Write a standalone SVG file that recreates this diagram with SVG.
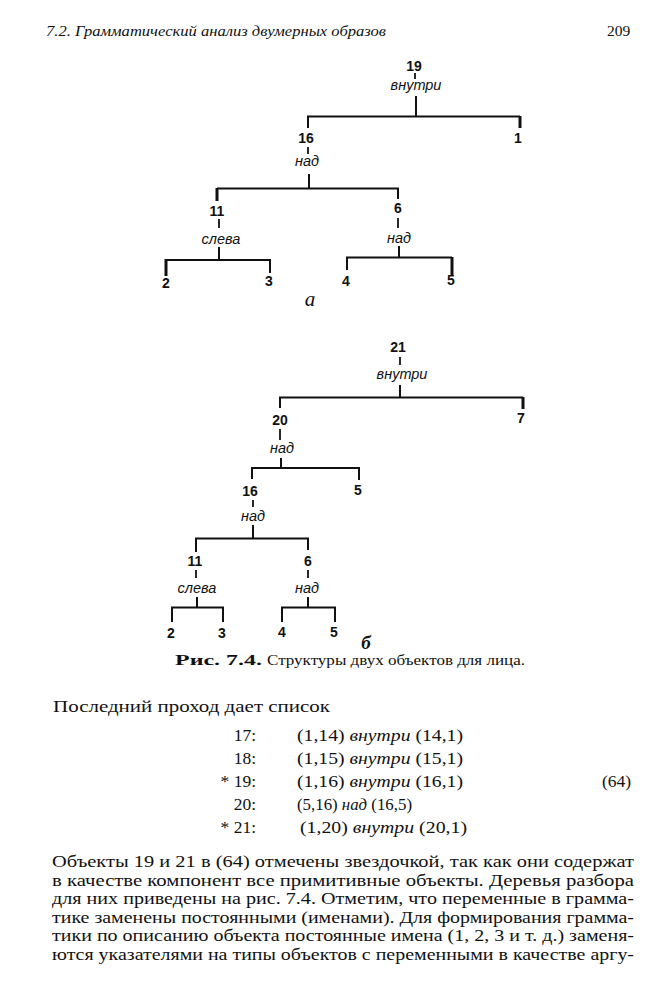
<svg xmlns="http://www.w3.org/2000/svg" width="655" height="1000" viewBox="0 0 655 1000">
<style>
.num{font-family:"Liberation Sans",Arial,sans-serif;font-weight:bold;font-size:14px;text-anchor:middle;fill:#111}
.rel{font-family:"Liberation Sans",Arial,sans-serif;font-style:italic;font-size:14.5px;text-anchor:middle;fill:#111}
.ln{stroke:#111;stroke-width:2;fill:none}
.tk{stroke:#111;stroke-width:1.8;fill:none}
.thk{stroke-width:3}
.ser{font-family:"Liberation Serif","Times New Roman",serif;fill:#111}
.it{font-style:italic}
.bd{font-size:17.5px}
</style>
<rect width="655" height="1000" fill="#fff"/>

<g id="header">
<text class="ser it" x="46" y="36" font-size="15.5" textLength="340" lengthAdjust="spacingAndGlyphs">7.2. Грамматический анализ двумерных образов</text>
<text class="ser" x="607" y="36" font-size="15.5">209</text>
</g>

<!-- Tree a -->
<g id="tree-a-connectors">
<path class="ln" d="M308 128 V116.5 H520"/>
<path class="ln thk" d="M520 116 V128"/>
<path class="ln" d="M416 96 V116"/>
<path class="ln" d="M309 174 V188"/>
<path class="ln" d="M217 188.5 H398 V199"/>
<path class="ln thk" d="M217 188 V201"/>
<path class="ln" d="M219 247 V259"/>
<path class="ln" d="M166 260 H270 V273"/>
<path class="ln thk" d="M166 259 V276"/>
<path class="ln" d="M399 246 V257"/>
<path class="ln" d="M347 270 V257.5 H452"/>
<path class="ln thk" d="M452 257 V275"/>
</g>
<g id="a-n19"><text class="num" x="414" y="71">19</text><path class="tk" d="M415 73 V79"/><text class="rel" x="416" y="90">внутри</text></g>
<g id="a-n16"><text class="num" x="306" y="143">16</text><path class="tk" d="M308 147 V154"/><text class="rel" x="307" y="166">над</text></g>
<g id="a-n1"><text class="num" x="518" y="143">1</text></g>
<g id="a-n11"><text class="num" x="217" y="216">11</text><path class="tk" d="M219 219 V228"/><text class="rel" x="221" y="244">слева</text></g>
<g id="a-n6"><text class="num" x="398" y="213">6</text><path class="tk" d="M398 218 V228"/><text class="rel" x="399" y="243">над</text></g>
<g id="a-n2"><text class="num" x="166" y="288">2</text></g>
<g id="a-n3"><text class="num" x="269" y="286" font-weight="normal">3</text></g>
<g id="a-n4"><text class="num" x="346" y="286">4</text></g>
<g id="a-n5"><text class="num" x="451" y="285">5</text></g>
<text class="ser it" x="310" y="306" font-size="21" text-anchor="middle">а</text>

<!-- Tree b -->
<g id="tree-b-connectors">
<path class="ln" d="M400 385 V397"/>
<path class="ln" d="M280 408 V397.5 H523"/>
<path class="ln thk" d="M523 397 V409"/>
<path class="ln" d="M281 458 V468"/>
<path class="ln" d="M252 479 V468 H359 V480"/>
<path class="ln" d="M253 525 V538"/>
<path class="ln" d="M196 552 V538.5 H308 V550"/>
<path class="ln" d="M197 597 V607"/>
<path class="ln" d="M172 622 V607.5 H223 V622"/>
<path class="ln" d="M308 597 V607"/>
<path class="ln" d="M282 622 V607.5 H335 V622"/>
</g>
<g id="b-n21"><text class="num" x="398" y="352">21</text><path class="tk" d="M400 357 V365"/><text class="rel" x="402" y="379">внутри</text></g>
<g id="b-n20"><text class="num" x="280" y="425">20</text><path class="tk" d="M280 429 V440"/><text class="rel" x="282" y="453">над</text></g>
<g id="b-n7"><text class="num" x="521" y="423">7</text></g>
<g id="b-n16"><text class="num" x="250" y="496">16</text><path class="tk" d="M253 500 V507"/><text class="rel" x="253" y="521">над</text></g>
<g id="b-n5a"><text class="num" x="358" y="495">5</text></g>
<g id="b-n11"><text class="num" x="195" y="566">11</text><path class="tk" d="M196 570 V578"/><text class="rel" x="197" y="593">слева</text></g>
<g id="b-n6"><text class="num" x="308" y="566">6</text><path class="tk" d="M308 570 V578"/><text class="rel" x="307" y="593">над</text></g>
<g id="b-n2"><text class="num" x="171" y="638">2</text></g>
<g id="b-n3"><text class="num" x="222" y="638">3</text></g>
<g id="b-n4"><text class="num" x="282" y="637">4</text></g>
<g id="b-n5"><text class="num" x="334" y="637">5</text></g>
<text class="ser it" x="366" y="649" font-size="19" font-weight="bold" text-anchor="middle">б</text>

<g id="caption">
<text class="ser" x="175" y="665" font-size="15" font-weight="bold" textLength="87" lengthAdjust="spacingAndGlyphs">Рис. 7.4.</text>
<text class="ser" x="267" y="665" font-size="15" textLength="258" lengthAdjust="spacingAndGlyphs">Структуры двух объектов для лица.</text>
</g>

<g id="list" class="ser bd">
<text x="53" y="712" textLength="277" lengthAdjust="spacingAndGlyphs">Последний проход дает список</text>
<g text-anchor="end">
<text x="256" y="741">17:</text>
<text x="256" y="764">18:</text>
<text x="256" y="787">* 19:</text>
<text x="256" y="810">20:</text>
<text x="256" y="833">* 21:</text>
</g>
<text x="297" y="741" textLength="166" lengthAdjust="spacingAndGlyphs">(1,14) <tspan class="it">внутри</tspan> (14,1)</text>
<text x="297" y="764" textLength="166" lengthAdjust="spacingAndGlyphs">(1,15) <tspan class="it">внутри</tspan> (15,1)</text>
<text x="297" y="787" textLength="166" lengthAdjust="spacingAndGlyphs">(1,16) <tspan class="it">внутри</tspan> (16,1)</text>
<text x="297" y="810" textLength="115" lengthAdjust="spacingAndGlyphs">(5,16) <tspan class="it">над</tspan> (16,5)</text>
<text x="300" y="833" textLength="167" lengthAdjust="spacingAndGlyphs">(1,20) <tspan class="it">внутри</tspan> (20,1)</text>
<text x="602" y="787">(64)</text>
</g>

<g id="paragraph" class="ser bd">
<text x="52" y="867" textLength="582" lengthAdjust="spacingAndGlyphs">Объекты 19 и 21 в (64) отмечены звездочкой, так как они содержат</text>
<text x="52" y="885.6" textLength="582" lengthAdjust="spacingAndGlyphs">в качестве компонент все примитивные объекты. Деревья разбора</text>
<text x="52" y="904.2" textLength="582" lengthAdjust="spacingAndGlyphs">для них приведены на рис. 7.4. Отметим, что переменные в грамма-</text>
<text x="52" y="922.8" textLength="582" lengthAdjust="spacingAndGlyphs">тике заменены постоянными (именами). Для формирования грамма-</text>
<text x="52" y="941.4" textLength="582" lengthAdjust="spacingAndGlyphs">тики по описанию объекта постоянные имена (1, 2, 3 и т. д.) заменя-</text>
<text x="52" y="960" textLength="582" lengthAdjust="spacingAndGlyphs">ются указателями на типы объектов с переменными в качестве аргу-</text>
</g>
</svg>
